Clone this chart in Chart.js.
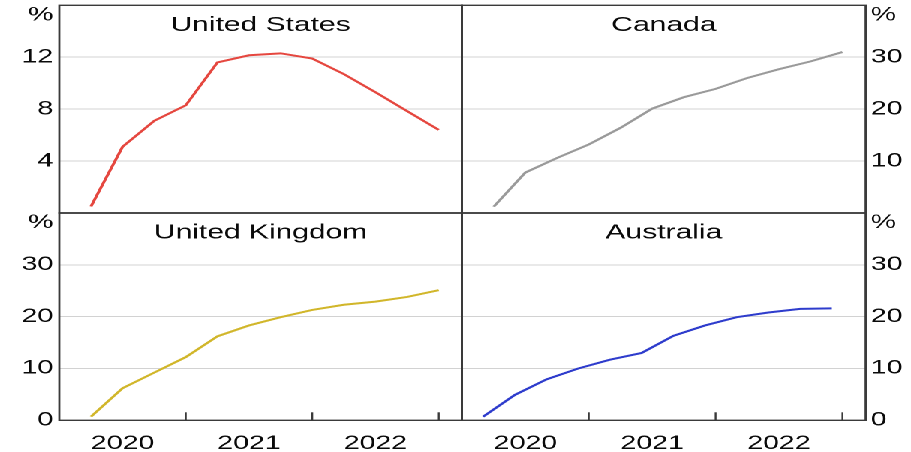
<!DOCTYPE html>
<html>
<head>
<meta charset="utf-8">
<script src="https://cdn.jsdelivr.net/npm/chart.js@4"></script>
<style>
  html, body { margin: 0; padding: 0; background: #fff; overflow: hidden; }
  /* the reference text is wide, so the whole drawing is stretched sideways */
  #wrap { position: absolute; left: 0; top: 0; width: 607px; height: 452px; transform: scaleX(1.5008); transform-origin: 0 0; }
  #wrap canvas { position: absolute; left: 0; top: 0; }
</style>
</head>
<body>
<div id="wrap">
  <canvas id="us" width="607" height="452"></canvas>
  <canvas id="canada" width="607" height="452"></canvas>
  <canvas id="uk" width="607" height="452"></canvas>
  <canvas id="aus" width="607" height="452"></canvas>
</div>
<script>
// x values: months since the start of 2020
const quarterEnds = [3, 6, 9, 12, 15, 18, 21, 24, 27, 30, 33, 36];
const ausDates = [2, 5, 8, 11, 14, 17, 20, 23, 26, 29, 32, 35];
const years = ['2020', '2021', '2022'];
const yearMid = [6, 18, 30];
const yearEdges = [12, 24, 36];

const usValues = [0.5, 5.1, 7.1, 8.3, 11.6, 12.15, 12.3, 11.9, 10.7, 9.3, 7.85, 6.4];
const canadaValues = [1.2, 7.8, 10.6, 13.2, 16.4, 20.1, 22.3, 23.9, 26.0, 27.7, 29.2, 31.0];
const ukValues = [0.7, 6.2, 9.2, 12.2, 16.2, 18.3, 19.9, 21.3, 22.3, 22.9, 23.8, 25.1];
const ausValues = [0.7, 4.9, 7.9, 10.0, 11.7, 13.0, 16.3, 18.3, 19.9, 20.8, 21.5, 21.6];

const usTicks = [0, 4, 8, 12, 16];
const pctTicks = [0, 10, 20, 30, 40];

// panel edges (unstretched px)
const W = 607, HT = 452;
const L = 39.5, M = 307.8, R = 576.8, T = 5.3, MID = 213, B = 420.3;
const FONT = '"Liberation Sans", Arial, sans-serif';
const INK = '#0a0a0a';

Chart.defaults.font.family = FONT;
Chart.defaults.color = INK;

const panelText = {
  id: 'panelText',
  afterDraw(chart, args, o) {
    const { ctx, chartArea: a } = chart;
    ctx.save();
    ctx.fillStyle = INK;
    ctx.font = '20px ' + FONT;
    ctx.textAlign = 'center';
    ctx.textBaseline = 'alphabetic';
    ctx.fillText(o.title, (a.left + a.right) / 2, a.top + 25.5);

    ctx.font = '19px ' + FONT;
    ctx.textBaseline = 'middle';
    if (o.side === 'left') {
      ctx.textAlign = 'right';
      ctx.fillText('%', a.left - 4, a.top + 10);
    } else {
      ctx.textAlign = 'left';
      ctx.fillText('%', a.right + 3.5, a.top + 10);
    }

    ctx.strokeStyle = '#3a3a3a';
    ctx.lineWidth = 1.4;
    ctx.strokeRect(a.left, a.top, a.right - a.left, a.bottom - a.top);

    if (o.bottom) {
      const xs = chart.scales.x;
      ctx.lineWidth = 1.2;
      yearEdges.forEach(v => {
        const px = xs.getPixelForValue(v);
        ctx.beginPath();
        ctx.moveTo(px, a.bottom);
        ctx.lineTo(px, a.bottom - 8);
        ctx.stroke();
      });
    }
    ctx.restore();
  }
};

function noPad(s) {
  s.paddingLeft = 0; s.paddingRight = 0; s.paddingTop = 0; s.paddingBottom = 0;
}

function panel(id, title, color, xs, ys, yTicks, side, bottom) {
  const yMax = yTicks[yTicks.length - 1];
  const pad = side === 'left'
    ? { left: L - 30, right: W - M }
    : { left: M, right: W - R - 30 };
  pad.top = bottom ? MID : T;
  pad.bottom = bottom ? 0 : HT - MID;

  new Chart(document.getElementById(id), {
    type: 'line',
    data: {
      datasets: [{
        data: xs.map((x, i) => ({ x: x, y: ys[i] })),
        borderColor: color,
        borderWidth: 2,
        pointRadius: 0,
        tension: 0
      }]
    },
    options: {
      responsive: false,
      animation: false,
      devicePixelRatio: 2,
      layout: { padding: pad },
      plugins: {
        legend: { display: false },
        tooltip: { enabled: false },
        panelText: { title: title, side: side, bottom: bottom }
      },
      scales: {
        x: {
          type: 'linear',
          display: bottom,
          min: 0,
          max: 38.2,
          afterBuildTicks: s => { s.ticks = yearMid.map(v => ({ value: v })); },
          afterFit: s => { if (bottom) s.height = HT - B; noPad(s); },
          ticks: {
            autoSkip: false,
            maxRotation: 0,
            padding: 4,
            font: { size: 19 },
            callback: v => years[yearMid.indexOf(v)]
          },
          grid: { display: false },
          border: { display: false }
        },
        y: {
          position: side,
          min: yTicks[0],
          max: yMax,
          afterBuildTicks: s => { s.ticks = yTicks.map(v => ({ value: v })); },
          afterFit: s => { s.width = 30; noPad(s); },
          ticks: {
            padding: side === 'left' ? 4 : 3.5,
            font: { size: 19 },
            callback: v => (v === yMax || (v === 0 && !bottom)) ? '' : v
          },
          grid: { color: '#d2d2d2', lineWidth: 1, drawTicks: false },
          border: { display: false }
        }
      }
    },
    plugins: [panelText]
  });
}

panel('us', 'United States', '#e5473f', quarterEnds, usValues, usTicks, 'left', false);
panel('canada', 'Canada', '#9a9a9a', quarterEnds, canadaValues, pctTicks, 'right', false);
panel('uk', 'United Kingdom', '#d1b62a', quarterEnds, ukValues, pctTicks, 'left', true);
panel('aus', 'Australia', '#2e3ccc', ausDates, ausValues, pctTicks, 'right', true);
</script>
</body>
</html>
